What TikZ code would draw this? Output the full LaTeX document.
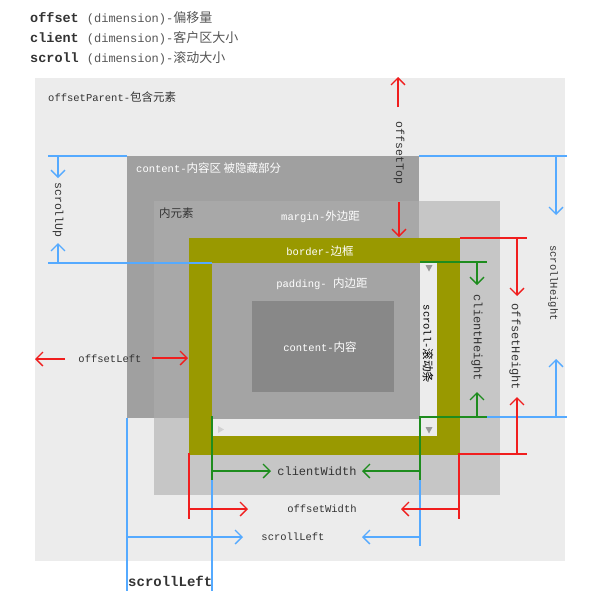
\documentclass[tikz,border=0pt]{standalone}
\usepackage{fontspec}
\setmainfont{Liberation Mono}
\newfontfamily\cjk{Noto Sans CJK SC}
\usetikzlibrary{arrows.meta}
\newcommand\zh[1]{{\cjk\fontsize{11.5}{12}\selectfont #1}}
\newcommand\zhh[1]{{\cjk\fontsize{13}{14}\selectfont #1}}
\definecolor{bgpar}{HTML}{ECECEC}
\definecolor{contc}{HTML}{A0A0A0}
\definecolor{margc}{HTML}{C6C6C6}
\definecolor{ovlc}{HTML}{A8A8A8}
\definecolor{olivec}{HTML}{999900}
\definecolor{padc}{HTML}{A4A4A4}
\definecolor{innerc}{HTML}{888888}
\definecolor{sbarc}{HTML}{ECECEC}
\definecolor{cred}{HTML}{F01E1E}
\definecolor{cgreen}{HTML}{1E8C1E}
\definecolor{cblue}{HTML}{55AAFF}
\definecolor{txtc}{HTML}{333333}
\definecolor{hdrc}{HTML}{555555}
\begin{document}
\begin{tikzpicture}[x=1pt,y=-1pt,
  lbl/.style={inner sep=0pt, font=\fontsize{10.5}{12}\selectfont, text=txtc},
  wlbl/.style={lbl, text=white},
  bigl/.style={inner sep=0pt, font=\fontsize{11.5}{12}\selectfont, text=txtc},
  dimtip/.style={-{Straight Barb[length=7pt,width=14pt]}},
  redl/.style={draw=cred, line width=1.3pt},
  greenl/.style={draw=cgreen, line width=1.3pt},
  bluel/.style={draw=cblue, line width=1.3pt}]
\useasboundingbox (0,0) rectangle (600,600);
\fill[white] (0,0) rectangle (600,600);
% boxes
\fill[bgpar] (35,78) rectangle (565,561);
\fill[margc] (154,201) rectangle (500,495);
\fill[contc] (127,156) rectangle (419,418);
\fill[ovlc] (154,201) rectangle (419,418);
\fill[olivec] (189,238) rectangle (460,455);
\fill[padc] (212,263) rectangle (437,436);
\fill[sbarc] (420,263) rectangle (437,436);
\fill[sbarc] (212,419) rectangle (437,436);
\fill[innerc] (252,301) rectangle (394,392);
% scrollbar arrows
\fill[gray!80] (425.5,265) -- (432.5,265) -- (429,271.5) -- cycle;
\fill[gray!80] (425.5,427) -- (432.5,427) -- (429,433.5) -- cycle;
\fill[gray!35] (218,426) -- (218,433) -- (224,429.5) -- cycle;
% coordinates
\coordinate (su1) at (48,156); \coordinate (su2) at (127,156);
\coordinate (sh1) at (419,156); \coordinate (sh2) at (567,156);
\coordinate (su3) at (48,263); \coordinate (su4) at (212,263);
\coordinate (sh3) at (487,417); \coordinate (sh4) at (567,417);
\coordinate (suA) at (58,156); \coordinate (suAt) at (58,178);
\coordinate (suB) at (58,263); \coordinate (suBt) at (58,243);
\coordinate (shA) at (556,156); \coordinate (shAt) at (556,215);
\coordinate (shB) at (556,417); \coordinate (shBt) at (556,359);
\coordinate (slv1) at (127,418); \coordinate (slv1b) at (127,591);
\coordinate (slv2) at (212,480); \coordinate (slv2b) at (212,591);
\coordinate (slv3) at (420,480); \coordinate (slv3b) at (420,546);
\coordinate (slA) at (127,537); \coordinate (slAt) at (243,537);
\coordinate (slB) at (420,537); \coordinate (slBt) at (362,537);
\coordinate (otA) at (398,107); \coordinate (otAt) at (398,77);
\coordinate (otB) at (399,202); \coordinate (otBt) at (399,237);
\coordinate (olA) at (65,359); \coordinate (olAt) at (35,359);
\coordinate (olB) at (152,358); \coordinate (olBt) at (188,358);
\coordinate (oh1) at (460,238); \coordinate (oh2) at (527,238);
\coordinate (oh3) at (459,454); \coordinate (oh4) at (527,454);
\coordinate (ohA) at (517,238); \coordinate (ohAt) at (517,296);
\coordinate (ohB) at (517,454); \coordinate (ohBt) at (517,397);
\coordinate (ow1) at (189,453); \coordinate (ow1b) at (189,519);
\coordinate (ow2) at (459,453); \coordinate (ow2b) at (459,519);
\coordinate (owA) at (189,509); \coordinate (owAt) at (248,509);
\coordinate (owB) at (459,509); \coordinate (owBt) at (401,509);
\coordinate (ch1) at (420,262); \coordinate (ch2) at (487,262);
\coordinate (ch3) at (420,417); \coordinate (ch4) at (487,417);
\coordinate (chA) at (477,262); \coordinate (chAt) at (477,285);
\coordinate (chB) at (477,417); \coordinate (chBt) at (477,392);
\coordinate (cw1) at (212,416); \coordinate (cw1b) at (212,480);
\coordinate (cw2) at (420,416); \coordinate (cw2b) at (420,480);
\coordinate (cwA) at (212,471); \coordinate (cwAt) at (271,471);
\coordinate (cwB) at (420,471); \coordinate (cwBt) at (362,471);
% blue
\draw[bluel] (su1) -- (su2);
\draw[bluel] (sh1) -- (sh2);
\draw[bluel] (su3) -- (su4);
\draw[bluel] (sh3) -- (sh4);
\draw[bluel,dimtip] (suA) -- (suAt);
\draw[bluel,dimtip] (suB) -- (suBt);
\draw[bluel,dimtip] (shA) -- (shAt);
\draw[bluel,dimtip] (shB) -- (shBt);
\draw[bluel] (slv1) -- (slv1b);
\draw[bluel] (slv2) -- (slv2b);
\draw[bluel] (slv3) -- (slv3b);
\draw[bluel,dimtip] (slA) -- (slAt);
\draw[bluel,dimtip] (slB) -- (slBt);
% red
\draw[redl,dimtip] (otA) -- (otAt);
\draw[redl,dimtip] (otB) -- (otBt);
\draw[redl,dimtip] (olA) -- (olAt);
\draw[redl,dimtip] (olB) -- (olBt);
\draw[redl] (oh1) -- (oh2);
\draw[redl] (oh3) -- (oh4);
\draw[redl,dimtip] (ohA) -- (ohAt);
\draw[redl,dimtip] (ohB) -- (ohBt);
\draw[redl] (ow1) -- (ow1b);
\draw[redl] (ow2) -- (ow2b);
\draw[redl,dimtip] (owA) -- (owAt);
\draw[redl,dimtip] (owB) -- (owBt);
% green
\draw[greenl] (ch1) -- (ch2);
\draw[greenl] (ch3) -- (ch4);
\draw[greenl,dimtip] (chA) -- (chAt);
\draw[greenl,dimtip] (chB) -- (chBt);
\draw[greenl] (cw1) -- (cw1b);
\draw[greenl] (cw2) -- (cw2b);
\draw[greenl,dimtip] (cwA) -- (cwAt);
\draw[greenl,dimtip] (cwB) -- (cwBt);
% header
\node[anchor=west, inner sep=0pt, text=txtc] (h1) at (30,18) {\fontsize{13.5}{14}\selectfont\bfseries offset\ \mdseries\fontsize{12}{14}\selectfont\color{hdrc}(dimension)-\zhh{偏移量}};
\node[anchor=west, inner sep=0pt, text=txtc] (h2) at (30,38) {\fontsize{13.5}{14}\selectfont\bfseries client\ \mdseries\fontsize{12}{14}\selectfont\color{hdrc}(dimension)-\zhh{客户区大小}};
\node[anchor=west, inner sep=0pt, text=txtc] (h3) at (30,58) {\fontsize{13.5}{14}\selectfont\bfseries scroll\ \mdseries\fontsize{12}{14}\selectfont\color{hdrc}(dimension)-\zhh{滚动大小}};
% labels
\node[lbl, anchor=west] (lpar) at (48,97) {offsetParent-\zh{包含元素}};
\node[wlbl, anchor=west] (lcont) at (136,168) {content-\zh{内容区 被隐藏部分}};
\node[bigl, anchor=west] (linner) at (159,213) {\zh{内元素}};
\node[wlbl, anchor=west] (lmarg) at (281,217) {margin-\zh{外边距}};
\node[wlbl] (lbord) at (320,251) {border-\zh{边框}};
\node[wlbl] (lpad) at (322,284) {padding- \zh{内边距}};
\node[wlbl] (linn) at (320,347) {content-\zh{内容}};
\node[lbl, text=black, rotate=-90] (lsb) at (428,344) {scroll-\zh{滚动条}};
\node[lbl, rotate=-90, font=\fontsize{11.5}{12}\selectfont] (lot) at (399,153) {offsetTop};
\node[lbl, rotate=-90, font=\fontsize{11.5}{12}\selectfont] (lsu) at (58,210) {scrollUp};
\node[lbl, rotate=-90] (lsh) at (553,283) {scrollHeight};
\node[lbl, rotate=-90, font=\fontsize{12}{12}\selectfont] (lch) at (477,338) {clientHeight};
\node[lbl, rotate=-90, font=\fontsize{12}{12}\selectfont] (loh) at (515,347) {offsetHeight};
\node[lbl] (lol) at (110,359) {offsetLeft};
\node[lbl, font=\fontsize{12}{12}\selectfont] (lcw) at (317,471) {clientWidth};
\node[lbl] (low) at (322,509) {offsetWidth};
\node[lbl] (lsl) at (293,537) {scrollLeft};
\node[inner sep=0pt, text=txtc, anchor=west, font=\fontsize{14}{14}\selectfont\bfseries] (lsl2) at (128,581) {scrollLeft};
\end{tikzpicture}
\end{document}
